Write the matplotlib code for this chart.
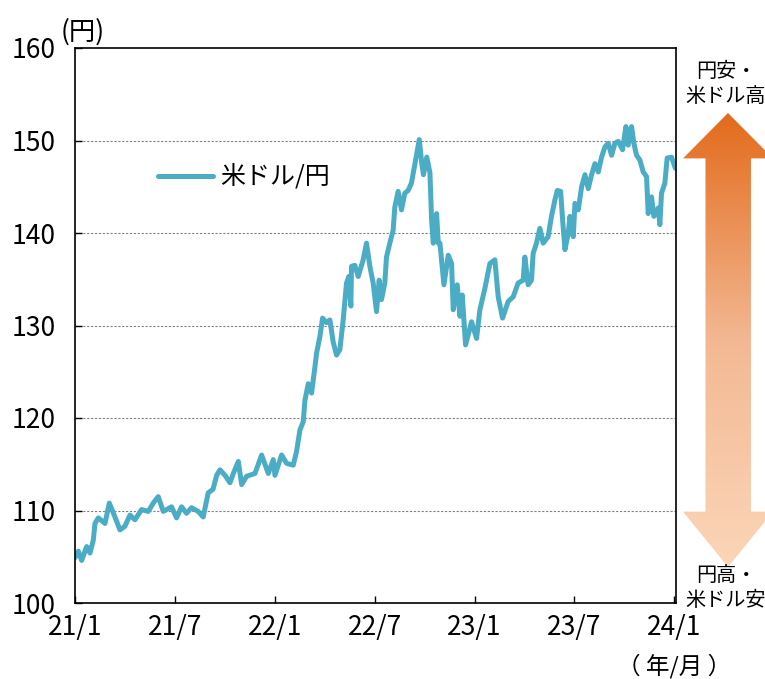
import matplotlib
matplotlib.use('Agg')
import matplotlib.pyplot as plt
import numpy as np
from matplotlib.patches import Polygon
from matplotlib.colors import LinearSegmentedColormap

plt.rcParams['font.family'] = ['Noto Sans CJK JP', 'DejaVu Sans']

# months since 2021/1 and USD/JPY level
months = [0.00, 0.20, 0.40, 0.70, 0.90, 1.10, 1.20, 1.40, 1.80, 2.06,
          2.40, 2.70, 3.00, 3.30, 3.60, 4.00, 4.40, 4.70, 5.00, 5.30,
          5.80, 6.10, 6.40, 6.70, 7.00, 7.40, 7.70, 8.00, 8.29, 8.51,
          8.71, 9.01, 9.31, 9.51, 9.81, 10.01, 10.31, 10.81, 11.21, 11.61,
          11.91, 12.01, 12.41, 12.71, 13.11, 13.31, 13.51, 13.71, 13.81, 14.01,
          14.21, 14.31, 14.41, 14.51, 14.71, 14.87, 15.11, 15.31, 15.51, 15.71,
          15.91, 16.11, 16.31, 16.45, 16.57, 16.61, 16.81, 17.01, 17.31, 17.51,
          17.71, 17.91, 18.11, 18.27, 18.41, 18.61, 18.71, 18.91, 19.11, 19.21,
          19.41, 19.61, 19.81, 20.01, 20.21, 20.42, 20.68, 20.83, 20.93, 21.13,
          21.32, 21.42, 21.52, 21.72, 21.82, 21.92, 22.16, 22.42, 22.62, 22.72,
          22.96, 23.12, 23.26, 23.46, 23.82, 24.12, 24.32, 24.62, 24.92, 25.22,
          25.42, 25.68, 26.02, 26.32, 26.62, 26.92, 27.02, 27.22, 27.42, 27.52,
          27.72, 27.92, 28.12, 28.42, 28.62, 28.83, 28.97, 29.17, 29.29, 29.43,
          29.63, 29.73, 29.93, 30.03, 30.23, 30.43, 30.63, 30.83, 31.03, 31.23,
          31.43, 31.63, 31.83, 32.03, 32.23, 32.43, 32.63, 32.89, 33.09, 33.23,
          33.43, 33.57, 33.73, 33.93, 34.13, 34.33, 34.43, 34.63, 34.77, 35.03,
          35.13, 35.23, 35.43, 35.57, 35.83, 36.06]
usdjpy = [104.9, 105.6, 104.6, 106.1, 105.4, 106.8, 108.6, 109.2, 108.6, 110.8,
          109.3, 107.9, 108.3, 109.5, 109.0, 110.1, 109.9, 110.8, 111.5, 109.9,
          110.4, 109.2, 110.4, 109.7, 110.3, 109.9, 109.3, 111.9, 112.3, 113.8,
          114.4, 113.8, 113.0, 114.0, 115.3, 112.8, 113.7, 114.0, 116.0, 114.0,
          115.5, 113.8, 116.0, 115.1, 114.9, 116.4, 118.7, 119.6, 121.9, 123.7,
          122.7, 124.1, 125.5, 127.0, 128.8, 130.8, 130.3, 130.6, 128.2, 126.8,
          127.4, 130.6, 134.6, 135.3, 132.1, 136.4, 136.5, 135.3, 137.1, 138.9,
          136.4, 134.6, 131.5, 134.9, 132.8, 134.6, 137.4, 138.9, 140.3, 142.8,
          144.5, 142.5, 144.3, 144.6, 145.4, 147.5, 150.1, 147.5, 146.3, 148.2,
          146.5, 141.4, 138.9, 142.1, 138.9, 138.9, 134.4, 137.6, 136.7, 131.7,
          134.4, 131.0, 133.3, 127.9, 130.4, 128.6, 131.7, 134.0, 136.7, 137.1,
          133.1, 130.8, 132.6, 133.1, 134.6, 134.9, 137.4, 134.4, 134.9, 137.8,
          138.9, 140.5, 138.9, 139.6, 141.8, 143.6, 144.6, 144.5, 141.4, 138.2,
          140.0, 141.8, 139.6, 143.2, 142.5, 145.0, 146.3, 144.8, 146.3, 147.5,
          146.6, 148.2, 149.3, 149.7, 148.4, 149.7, 149.9, 149.0, 151.5, 149.5,
          151.5, 149.7, 148.4, 147.9, 146.6, 146.1, 142.1, 143.9, 141.8, 142.7,
          140.9, 144.3, 145.4, 148.1, 148.2, 147.0]

tick_months = [0, 6, 12, 18, 24, 30, 36]
tick_labels = ['21/1', '21/7', '22/1', '22/7', '23/1', '23/7', '24/1']
y_ticks = [100, 110, 120, 130, 140, 150, 160]

W, H = 765, 679
fig = plt.figure(figsize=(W / 100, H / 100), dpi=100)
ax = fig.add_axes([75 / W, 1 - 603 / H, (676 - 75) / W, (603 - 48) / H])

ax.plot(months, usdjpy, color='#4BACC6', lw=3.6, solid_joinstyle='round',
        solid_capstyle='round', label='米ドル/円')

ax.set_xlim(0, 36.1)
ax.set_ylim(100, 160)
ax.set_xticks(tick_months)
ax.set_xticklabels(tick_labels)
ax.set_yticks(y_ticks)
ax.tick_params(direction='in', length=5, width=1, labelsize=19, colors='black')
ax.tick_params(axis='y', pad=14)
ax.tick_params(axis='x', pad=8)
for s in ax.spines.values():
    s.set_linewidth(1.2)
for v in [110, 120, 130, 140, 150]:
    ax.axhline(v, color='#808080', lw=0.8, ls=(0, (2, 1.5)), zorder=0)

leg = ax.legend(loc='upper left', bbox_to_anchor=(0.1, 0.83), frameon=False,
                fontsize=18, handlelength=2.2, handletextpad=0.3)

fig.text(83 / W, 1 - 32 / H, '(円)', ha='center', va='center', fontsize=19)
fig.text(674 / W, 1 - 666 / H, '（ 年/月 ）', ha='center', va='center', fontsize=17)

# gradient double arrow on the right
ax_ar = fig.add_axes([683 / W, 1 - 567 / H, 90 / W, 454 / H])
ax_ar.set_xlim(0, 1)
ax_ar.set_ylim(0, 1)
ax_ar.axis('off')
cmap = LinearSegmentedColormap.from_list('arr', ['#FBD6B8', '#F3B893', '#E36B1C'])
grad = np.linspace(0, 1, 256).reshape(-1, 1)
im = ax_ar.imshow(grad, cmap=cmap, extent=[0, 1, 0, 1], origin='lower',
                  aspect='auto')
pts = [(0.5, 1.0), (0.0, 0.9), (0.25, 0.9), (0.25, 0.122), (0.0, 0.122),
       (0.5, 0.0), (1.0, 0.122), (0.755, 0.122), (0.755, 0.9), (1.0, 0.9)]
poly = Polygon(pts, closed=True, facecolor='none', edgecolor='none',
               transform=ax_ar.transData)
ax_ar.add_patch(poly)
im.set_clip_path(poly)

fig.text(726 / W, 1 - 84 / H, '円安・\n米ドル高', ha='center', va='center',
         fontsize=14.5, linespacing=1.25)
fig.text(726 / W, 1 - 588 / H, '円高・\n米ドル安', ha='center', va='center',
         fontsize=14.5, linespacing=1.25)

fig.savefig('out.png', dpi=100)
